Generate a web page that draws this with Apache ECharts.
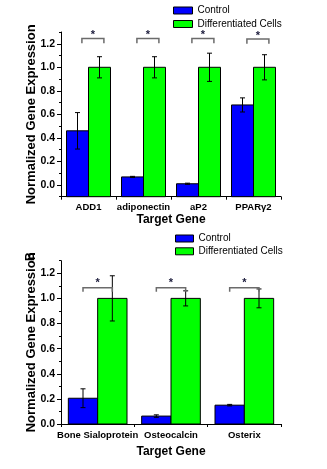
<!DOCTYPE html>
<html>
<head>
<meta charset="utf-8">
<script src="https://cdn.jsdelivr.net/npm/echarts@6/dist/echarts.min.js"></script>
<style>
html,body{margin:0;padding:0;background:#fff;}
#c{width:327px;height:469px;}
</style>
</head>
<body>
<div id="c"></div>
<script>
// ---- Data: panel A (adipogenic markers) ----
const categoriesA = ['ADD1', 'adiponectin', 'aP2', 'PPARγ2'];
const controlA = [0.46, 0.068, 0.01, 0.68];
const controlErrA = [0.155, 0.005, 0.005, 0.06];
const diffA = [1.0, 1.0, 1.0, 1.0];
const diffErrA = [0.09, 0.09, 0.12, 0.107];
const sigLineA = [1.245, 1.245, 1.245, 1.24];
const sigLegA = [1.205, 1.205, 1.205, 1.2];
const sigStarA = [1.275, 1.275, 1.275, 1.27];
const yRangeA = [-0.1, 1.3];

// ---- Data: panel B (osteogenic markers) ----
const categoriesB = ['Bone Sialoprotein', 'Osteocalcin', 'Osterix'];
const controlB = [0.205, 0.063, 0.15];
const controlErrB = [0.075, 0.01, 0.006];
const diffB = [1.0, 1.0, 1.0];
const diffErrB = [0.18, 0.06, 0.075];
const sigLineB = [1.085, 1.085, 1.085];
const sigLegB = [1.053, 1.053, 1.053];
const sigStarB = [1.12, 1.12, 1.12];
const yRangeB = [0, 1.3];

// ---- Tick labels ----
const yTickLabels = [0.0, 0.2, 0.4, 0.6, 0.8, 1.0, 1.2];
const yMinorTicks = [-0.1, 0.0, 0.1, 0.2, 0.3, 0.4, 0.5, 0.6, 0.7, 0.8, 0.9, 1.0, 1.1, 1.2, 1.3];

const FONT = 'Arial, "Liberation Sans", sans-serif';
const BLUE = '#0000ff';
const GREEN = '#00ff00';

function barRender(offset) {
  return function (params, api) {
    const cat = api.value(0), v = api.value(1), e = api.value(2);
    const band = api.size([1, 0])[0];
    const w = band * 0.4;
    const p = api.coord([cat, v]);
    const cx = p[0] + offset * band;
    const base = params.coordSys.y + params.coordSys.height;
    const yT = api.coord([cat, v + e])[1];
    const yB = api.coord([cat, v - e])[1];
    const cap = 2.5;
    const ls = { stroke: '#000', lineWidth: 1 };
    return {
      type: 'group',
      children: [
        { type: 'rect', shape: { x: cx - w / 2, y: p[1], width: w, height: base - p[1] },
          style: { fill: api.visual('color'), stroke: '#000', lineWidth: 1 } },
        { type: 'line', shape: { x1: cx, y1: yT, x2: cx, y2: yB }, style: ls },
        { type: 'line', shape: { x1: cx - cap, y1: yT, x2: cx + cap, y2: yT }, style: ls },
        { type: 'line', shape: { x1: cx - cap, y1: yB, x2: cx + cap, y2: yB }, style: ls }
      ]
    };
  };
}

function bracketRender(shift) {
  return function (params, api) {
    const cat = api.value(0);
    const band = api.size([1, 0])[0];
    const c = api.coord([cat, api.value(1)]);
    const yLeg = api.coord([cat, api.value(2)])[1];
    const yStar = api.coord([cat, api.value(3)])[1];
    const x1 = c[0] + (-0.2 + shift) * band;
    const x2 = c[0] + (0.2 + shift) * band;
    return {
      type: 'group',
      children: [
        { type: 'polyline', shape: { points: [[x1, yLeg], [x1, c[1]], [x2, c[1]], [x2, yLeg]] },
          style: { stroke: '#6b6b6b', lineWidth: 1.5, fill: null } },
        { type: 'text', x: (x1 + x2) / 2, y: yStar,
          style: { text: '*', fill: '#1a1a3a', font: 'bold 11px ' + FONT, align: 'center', verticalAlign: 'middle' } }
      ]
    };
  };
}

function zip3(a, b) { return a.map((v, i) => [i, v, b[i]]); }
function zip4(a, b, c) { return a.map((v, i) => [i, v, b[i], c[i]]); }

const yLabelStyle = { color: '#000', fontWeight: 'bold', fontSize: 10.5, fontFamily: FONT, margin: 6 };

function yAxesFor(gridIndex, range) {
  return [
    {
      gridIndex, type: 'value', position: 'left', offset: 0,
      min: range[0], max: range[1],
      axisLine: { show: true, lineStyle: { color: '#000', width: 1 } },
      axisTick: { show: true, length: 2, lineStyle: { color: '#000' },
        customValues: yMinorTicks.filter(v => v >= range[0] - 1e-9 && v <= range[1] + 1e-9) },
      axisLabel: { show: false },
      splitLine: { show: false }
    },
    {
      gridIndex, type: 'value', position: 'left', offset: 0,
      min: range[0], max: range[1],
      name: 'Normalized Gene Expression', nameLocation: 'middle', nameGap: 23.5, nameRotate: 90,
      nameMoveOverlap: false,
      nameTextStyle: { color: '#000', fontWeight: 'bold', fontSize: 13, fontFamily: FONT },
      axisLine: { show: false },
      axisTick: { show: true, length: 4, lineStyle: { color: '#000' }, customValues: yTickLabels },
      axisLabel: Object.assign({ customValues: yTickLabels, formatter: v => v.toFixed(1) }, yLabelStyle),
      splitLine: { show: false }
    }
  ];
}

function xAxisFor(gridIndex, cats, nameGap) {
  return {
    gridIndex, type: 'category', data: cats, boundaryGap: true,
    name: 'Target Gene', nameLocation: 'middle', nameGap, nameMoveOverlap: false,
    nameTextStyle: { color: '#000', fontWeight: 'bold', fontSize: 12, fontFamily: FONT },
    axisLine: { show: true, onZero: false, lineStyle: { color: '#000', width: 1 } },
    axisTick: { show: true, length: 3, alignWithLabel: false, lineStyle: { color: '#000' } },
    axisLabel: { color: '#000', fontWeight: 'bold', fontSize: 9.5, fontFamily: FONT, margin: 6, interval: 0 },
    splitLine: { show: false }
  };
}

const chart = echarts.init(document.getElementById('c'), null, { renderer: 'canvas' });
chart.setOption({
  animation: false,
  backgroundColor: '#fff',
  textStyle: { fontFamily: FONT },
  grid: [
    { left: 61, top: 32, width: 220, height: 164.7 },
    { left: 61, top: 260.7, width: 220, height: 163.3 }
  ],
  legend: [
    { orient: 'vertical', left: 173, top: 4.5, padding: 0, itemWidth: 19, itemHeight: 7, itemGap: 1.5,
      icon: 'rect', data: ['Control', 'Differentiated Cells'],
      itemStyle: { borderColor: '#000', borderWidth: 1 },
      textStyle: { color: '#000', fontSize: 10, fontFamily: FONT, lineHeight: 12 } },
    { orient: 'vertical', left: 175, top: 232.5, padding: 0, itemWidth: 18, itemHeight: 7, itemGap: 0.8,
      icon: 'rect', data: ['Control', 'Differentiated Cells'],
      itemStyle: { borderColor: '#000', borderWidth: 1 },
      textStyle: { color: '#000', fontSize: 10, fontFamily: FONT, lineHeight: 12 } }
  ],
  xAxis: [xAxisFor(0, categoriesA, 17), xAxisFor(1, categoriesB, 22)],
  yAxis: yAxesFor(0, yRangeA).concat(yAxesFor(1, yRangeB)),
  series: [
    { type: 'custom', name: 'Control', xAxisIndex: 0, yAxisIndex: 0, itemStyle: { color: BLUE },
      renderItem: barRender(-0.2), data: zip3(controlA, controlErrA), encode: { x: 0, y: 1 } },
    { type: 'custom', name: 'Differentiated Cells', xAxisIndex: 0, yAxisIndex: 0, itemStyle: { color: GREEN },
      renderItem: barRender(0.2), data: zip3(diffA, diffErrA), encode: { x: 0, y: 1 } },
    { type: 'custom', name: 'sigA', xAxisIndex: 0, yAxisIndex: 0, silent: true,
      renderItem: bracketRender(0.08), data: zip4(sigLineA, sigLegA, sigStarA), encode: { x: 0, y: 1 } },
    { type: 'custom', name: 'Control', xAxisIndex: 1, yAxisIndex: 2, itemStyle: { color: BLUE },
      renderItem: barRender(-0.2), data: zip3(controlB, controlErrB), encode: { x: 0, y: 1 } },
    { type: 'custom', name: 'Differentiated Cells', xAxisIndex: 1, yAxisIndex: 2, itemStyle: { color: GREEN },
      renderItem: barRender(0.2), data: zip3(diffB, diffErrB), encode: { x: 0, y: 1 } },
    { type: 'custom', name: 'sigB', xAxisIndex: 1, yAxisIndex: 2, silent: true,
      renderItem: bracketRender(0), data: zip4(sigLineB, sigLegB, sigStarB), encode: { x: 0, y: 1 } }
  ],
  graphic: [
    { type: 'text', x: 31, y: 261, rotation: Math.PI / 2,
      style: { text: 'B', fill: '#000', font: 'bold 12px ' + FONT, align: 'left', verticalAlign: 'middle' } }
  ]
});
</script>
</body>
</html>
